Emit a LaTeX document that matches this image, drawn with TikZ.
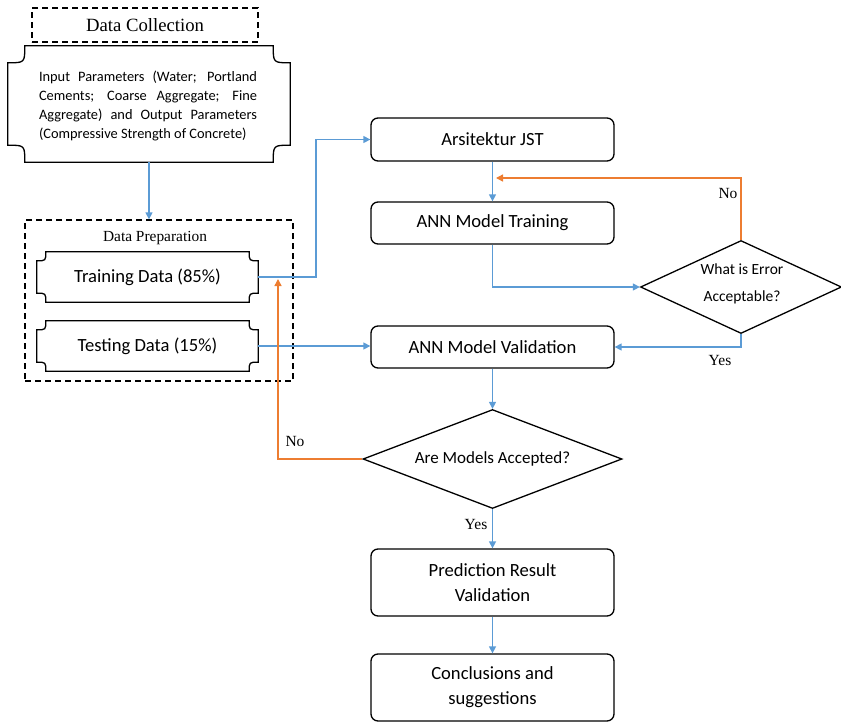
\documentclass[tikz,border=0pt]{standalone}
\usepackage{fontspec}
\setmainfont{Liberation Serif}
\newfontfamily\calfont{Carlito}
\usetikzlibrary{shapes.geometric,arrows.meta,calc}
\definecolor{cblue}{RGB}{91,155,213}
\definecolor{corange}{RGB}{237,125,49}
\newcommand\plaquepath[2]{%
  \draw[line width=1.3pt]
    ($(#1.north west)+(#2,0)$) -- ($(#1.north east)+(-#2,0)$)
    .. controls ($(#1.north east)+(-#2,#2)$) .. ($(#1.north east)+(0,#2)$)
    -- ($(#1.south east)+(0,-#2)$)
    .. controls ($(#1.south east)+(-#2,-#2)$) .. ($(#1.south east)+(-#2,0)$)
    -- ($(#1.south west)+(#2,0)$)
    .. controls ($(#1.south west)+(#2,-#2)$) .. ($(#1.south west)+(0,-#2)$)
    -- ($(#1.north west)+(0,#2)$)
    .. controls ($(#1.north west)+(#2,#2)$) .. ($(#1.north west)+(#2,0)$) -- cycle;}
\begin{document}
\begin{tikzpicture}[x=1pt,y=-1pt,
  boxfont/.style={font=\calfont\fontsize{18.6}{25}\selectfont},
  rbox/.style={draw, line width=1.3pt, rounded corners=7pt, minimum width=243pt,
    boxfont, align=center, inner sep=0pt},
  pbox/.style={minimum width=221pt, minimum height=50pt, boxfont, inner sep=0pt},
  dbox/.style={draw, line width=1.3pt, dash pattern=on 6pt off 4pt, inner sep=0pt},
  dia/.style={draw, diamond, line width=1.3pt, inner sep=0pt, align=center},
  serif/.style={font=\fontsize{15.5}{18}\selectfont},
  flow/.style={draw=cblue, line width=1.4pt, -{Triangle[length=7pt,width=7pt]}},
  back/.style={draw=corange, line width=1.4pt, -{Triangle[length=7pt,width=7pt]}},
]
\useasboundingbox (0,0) rectangle (841,723);

% Data collection
\node[dbox, minimum width=226pt, minimum height=34pt, font=\fontsize{18.7}{20}\selectfont]
  (coll) at (145,25) {Data Collection};
\node[minimum width=282pt, minimum height=116pt, inner sep=0pt,
  font=\calfont\fontsize{14.4}{19}\selectfont, text width=218pt, align=justify]
  (input) at (149,104) {};
\node[inner sep=0pt, font=\calfont\fontsize{14.4}{19}\selectfont, text width=218pt,
  align=justify] (inputtext) at (148,106)
  {Input Parameters (Water; Portland Cements; Coarse Aggregate; Fine Aggregate) and Output Parameters (Compressive Strength of Concrete)};
\plaquepath{input}{17}

% Data preparation
\node[dbox, minimum width=268pt, minimum height=161pt] (prep) at (159,300.5) {};
\node[font=\fontsize{15.4}{18}\selectfont] (preplabel) at (155,238) {Data Preparation};
\node[pbox] (train) at (147.5,277) {Training Data (85\%)};
\plaquepath{train}{9}
\node[pbox] (test) at (147.5,346) {Testing Data (15\%)};
\plaquepath{test}{9}

% right column
\node[rbox, minimum height=43pt] (arch) at (492.5,139.5) {Arsitektur JST};
\node[rbox, minimum height=42pt] (annt) at (492.5,223) {ANN Model Training};
\node[dia, minimum width=201pt, minimum height=93pt, shape aspect=2.16] (d1) at (741,287) {};
\node[font=\calfont\fontsize{15.5}{27}\selectfont, align=center, inner sep=0pt]
  (d1text) at (742,283.5) {What is Error\\Acceptable?};
\node[rbox, minimum height=42pt] (val) at (492.5,347) {ANN Model Validation};
\node[dia, minimum width=259pt, minimum height=99pt, shape aspect=2.6,
  font=\calfont\fontsize{17}{20}\selectfont] (d2) at (492.5,459) {Are Models Accepted?};
\node[rbox, minimum height=67pt] (pred) at (492.5,582.5) {Prediction Result\\Validation};
\node[rbox, minimum height=67pt] (concl) at (492.5,687.5) {Conclusions and\\suggestions};

% connectors
\coordinate (jx) at (316,0);
\coordinate (nox) at (496,178);
\coordinate (noup) at (278,279);
\path[flow] (input.south) -- (input.south |- prep.north);
\path[flow] (train.east) -- (train.east -| jx) |- (arch.west);
\path[flow] (test.east) -- (test.east -| val.west);
\path[flow] (arch.south) -- (annt.north);
\path[flow] (annt.south) |- (d1.west);
\path[back] (d1.north) |- (nox);
\path[flow] (d1.south) |- (val.east);
\path[flow] (val.south) -- (d2.north);
\path[back] (d2.west) -| (noup);
\path[flow] (d2.south) -- (pred.north);
\path[flow] (pred.south) -- (concl.north);

% labels
\node[serif] (no1) at (728,193) {No};
\node[serif] (yes1) at (720,360) {Yes};
\node[serif] (no2) at (295,441) {No};
\node[serif] (yes2) at (476,524) {Yes};
\end{tikzpicture}
\end{document}
